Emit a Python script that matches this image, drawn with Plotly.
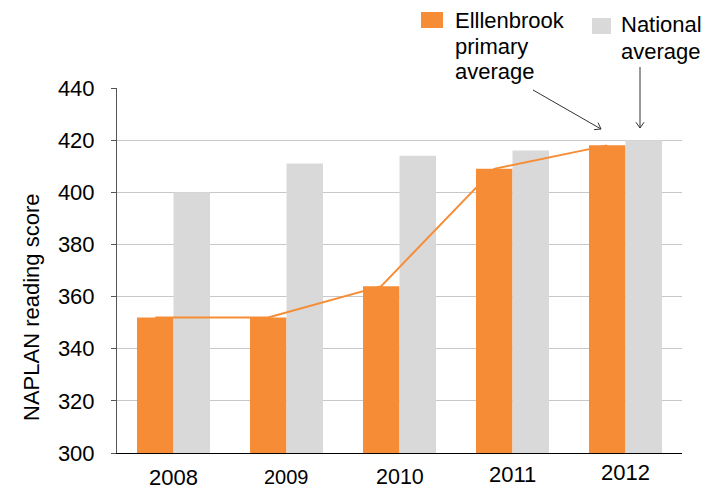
import math
import plotly.graph_objects as go

years = ["2008", "2009", "2010", "2011", "2012"]
ellenbrook = [352, 352, 364, 409, 418]
national = [400, 411, 414, 416, 420]
y_ticks = [300, 320, 340, 360, 380, 400, 420, 440]

# style lists (label drop below axis in px, font size)
label_drop = [24, 24, 24, 21, 19.5]
label_size = [22, 20, 21.5, 22, 22]

ORANGE = "#F68D36"
GREY = "#D9D9D9"
FONT = "Liberation Sans, Arial, sans-serif"

W, H = 711, 489
ML, MR, MT, MB = 117, 29, 88, 36
PW, PH = W - ML - MR, H - MT - MB


def px2paper(px, py):
    return (px - ML) / PW, (H - MB - py) / PH


xs = list(range(len(years)))
group_w = 0.646
bar_w = group_w / 2

fig = go.Figure()
fig.add_trace(go.Bar(x=xs, y=ellenbrook, width=bar_w, offset=-bar_w,
                     marker=dict(color=ORANGE, line=dict(width=0)), base=0,
                     name="Elllenbrook primary average", showlegend=False))
fig.add_trace(go.Bar(x=xs, y=national, width=bar_w, offset=0,
                     marker=dict(color=GREY, line=dict(width=0)), base=0,
                     name="National average", showlegend=False))
fig.add_trace(go.Scatter(x=[x - bar_w / 2 for x in xs], y=ellenbrook, mode="lines",
                         line=dict(color=ORANGE, width=2), showlegend=False,
                         hoverinfo="skip"))

annotations = []
for i, (lab, d, s) in enumerate(zip(years, label_drop, label_size)):
    annotations.append(dict(x=i, y=0, xref="x", yref="paper", text=lab,
                            showarrow=False, yshift=-d, yanchor="middle",
                            font=dict(size=s, color="#000", family=FONT)))

# y-axis title (placed lower than centre, as in the original)
tx, ty = px2paper(31, 308)
annotations.append(dict(x=tx, y=ty, xref="paper", yref="paper",
                        text="NAPLAN reading score", textangle=-90, showarrow=False,
                        xanchor="center", yanchor="middle",
                        font=dict(size=22, color="#000", family=FONT)))

# legend texts, one line each
legend_lines = [
    ("Elllenbrook", 453, 21), ("primary", 453, 46), ("average", 453, 72),
    ("National", 619, 25), ("average", 619, 51),
]
for txt, lx, ly in legend_lines:
    ax_, ay_ = px2paper(lx, ly)
    annotations.append(dict(x=ax_, y=ay_, xref="paper", yref="paper", text=txt,
                            showarrow=False, xanchor="left", yanchor="middle",
                            font=dict(size=22, color="#000", family=FONT)))

shapes = []
for (x0, y0, x1, y1, c) in [(421, 12, 443, 28, ORANGE), (592, 18, 611, 34, GREY)]:
    a0, b0 = px2paper(x0, y1)
    a1, b1 = px2paper(x1, y0)
    shapes.append(dict(type="rect", xref="paper", yref="paper", x0=a0, x1=a1,
                       y0=b0, y1=b1, fillcolor=c, line=dict(width=0)))

# pointer arrows (open V heads)
for (tx0, ty0, hx, hy) in [(533, 90, 601, 129), (640, 67, 640, 128)]:
    ang = math.atan2(hy - ty0, hx - tx0)
    pts = []
    for da in (math.radians(35), -math.radians(35)):
        pts.append((hx - 7 * math.cos(ang + da), hy - 7 * math.sin(ang + da)))
    p_t = px2paper(tx0, ty0)
    p_h = px2paper(hx, hy)
    w1 = px2paper(*pts[0])
    w2 = px2paper(*pts[1])
    shapes.append(dict(type="line", xref="paper", yref="paper", x0=p_t[0], y0=p_t[1],
                       x1=p_h[0], y1=p_h[1], line=dict(color="#333", width=1)))
    shapes.append(dict(type="path", xref="paper", yref="paper",
                       path=f"M {w1[0]},{w1[1]} L {p_h[0]},{p_h[1]} L {w2[0]},{w2[1]}",
                       line=dict(color="#333", width=1)))

fig.update_layout(
    width=W, height=H,
    margin=dict(l=ML, r=MR, t=MT, b=MB),
    plot_bgcolor="white", paper_bgcolor="white",
    barmode="overlay",
    font=dict(family=FONT, color="#000"),
    annotations=annotations, shapes=shapes,
    xaxis=dict(range=[-0.5, 4.5], tickvals=xs, showticklabels=False, ticks="",
               showgrid=False, showline=True, linecolor="#000", linewidth=1,
               zeroline=False),
    yaxis=dict(range=[300, 440], tickvals=y_ticks, showgrid=True, gridcolor="#C8C8C8",
               gridwidth=1, showline=True, linecolor="#555", linewidth=1,
               ticks="outside", ticklen=5, tickcolor="#555",
               ticklabelstandoff=12,
               tickfont=dict(size=22, family=FONT, color="#000"),
               zeroline=False),
)

fig.write_html("out.html", config={"displayModeBar": False},
               post_script="document.body.style.margin='0';")
